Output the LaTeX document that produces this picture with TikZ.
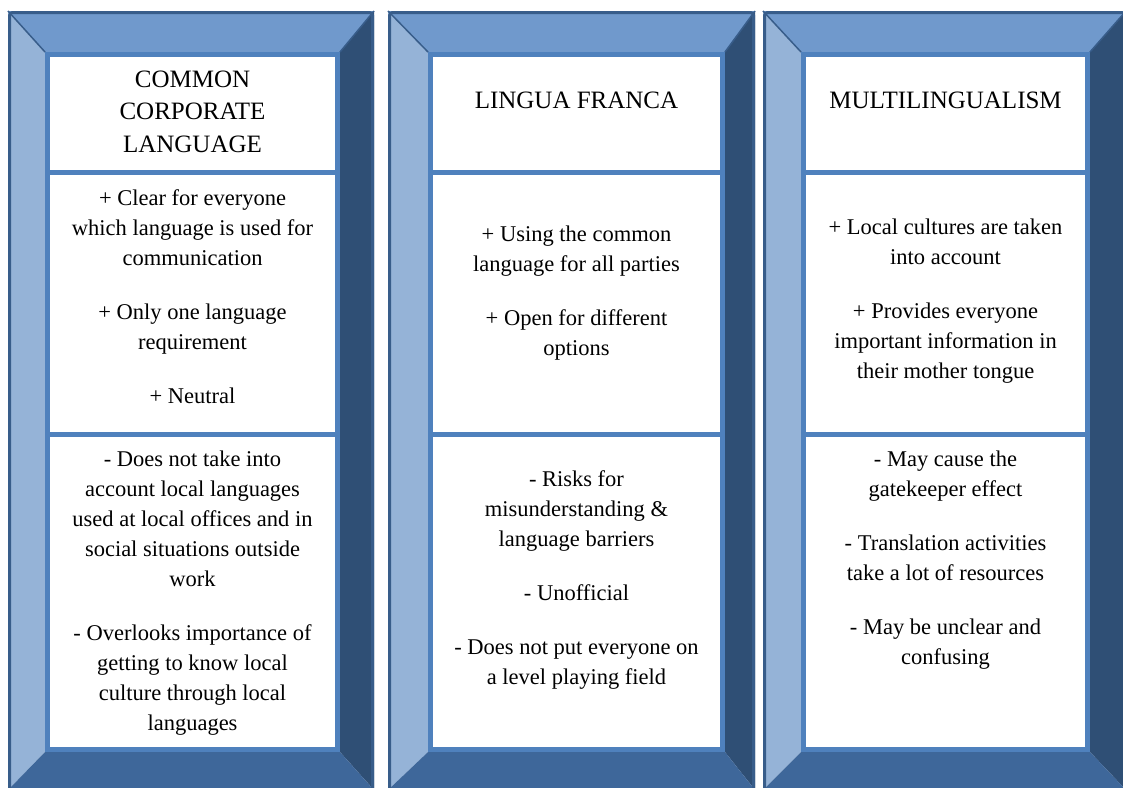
\documentclass[tikz,border=0pt]{standalone}
\usepackage{fontspec}
\setmainfont{Liberation Serif}
\definecolor{topc}{HTML}{7099CC}
\definecolor{leftc}{HTML}{95B3D7}
\definecolor{rightc}{HTML}{2F4F75}
\definecolor{botc}{HTML}{3E679A}
\definecolor{outerc}{HTML}{385D8A}
\definecolor{cellc}{HTML}{4F81BD}
\newcommand\bevelpanel[4]{%
  \fill[topc] (#1,11) -- (#2,11) -- (#4,52) -- (#3,52) -- cycle;
  \fill[leftc] (#1,11) -- (#3,52) -- (#3,752) -- (#1,790) -- cycle;
  \fill[rightc] (#2,11) -- (#2,790) -- (#4,752) -- (#4,52) -- cycle;
  \fill[botc] (#1,790) -- (#3,752) -- (#4,752) -- (#2,790) -- cycle;
  \draw[seam] (#1,11) -- (#3,52);
  \draw[seam] (#2,11) -- (#4,52);
  \fill[white] (#3,52) rectangle (#4,752);
  \draw[cellline] (#3+2.5,54.5) rectangle (#4-2.5,749.5);
  \draw[cellline] (#3,172.5) -- (#4,172.5);
  \draw[cellline] (#3,434) -- (#4,434);
  \draw[outerline] (#1+1.5,12.5) rectangle (#2-1.5,792);
}
\begin{document}
\begin{tikzpicture}[x=1pt,y=-1pt,
  seam/.style={draw=outerc,line width=1.5pt},
  cellline/.style={draw=cellc,line width=5pt},
  outerline/.style={draw=outerc,line width=3pt,rounded corners=3pt},
  hdr/.style={align=center,inner sep=0pt,font=\fontsize{25}{32.5}\selectfont},
  bodytext/.style={align=center,inner sep=0pt,font=\fontsize{22.5}{30}\selectfont}]
\useasboundingbox (0,0) rectangle (1123,787);
\fill[white] (0,0) rectangle (1123,787);
\bevelpanel{8}{374}{45}{340}
\bevelpanel{388}{755}{428}{725}
\bevelpanel{763}{1126}{801}{1090}
\node[hdr] (h1) at (192.5,111.5) {COMMON\\CORPORATE\\LANGUAGE};
\node[hdr] (h2) at (576.5,100) {LINGUA FRANCA};
\node[hdr] (h3) at (945.5,100) {MULTILINGUALISM};
\node[bodytext] (p1) at (192.5,297) {+ Clear for everyone\\which language is used for\\communication\\[24pt]+ Only one language\\requirement\\[24pt]+ Neutral};
\node[bodytext] (c1) at (192.5,593) {- Does not take into\\account local languages\\used at local offices and in\\social situations outside\\work\\[24pt]- Overlooks importance of\\getting to know local\\culture through local\\languages};
\node[bodytext] (p2) at (576.5,293) {+ Using the common\\language for all parties\\[24pt]+ Open for different\\options};
\node[bodytext] (c2) at (576.5,579.5) {- Risks for\\misunderstanding \&\\language barriers\\[24pt]- Unofficial\\[24pt]- Does not put everyone on\\a level playing field};
\node[bodytext] (p3) at (945.5,301) {+ Local cultures are taken\\into account\\[24pt]+ Provides everyone\\important information in\\their mother tongue};
\node[bodytext] (c3) at (945.5,560) {- May cause the\\gatekeeper effect\\[24pt]- Translation activities\\take a lot of resources\\[24pt]- May be unclear and\\confusing};
\end{tikzpicture}
\end{document}
